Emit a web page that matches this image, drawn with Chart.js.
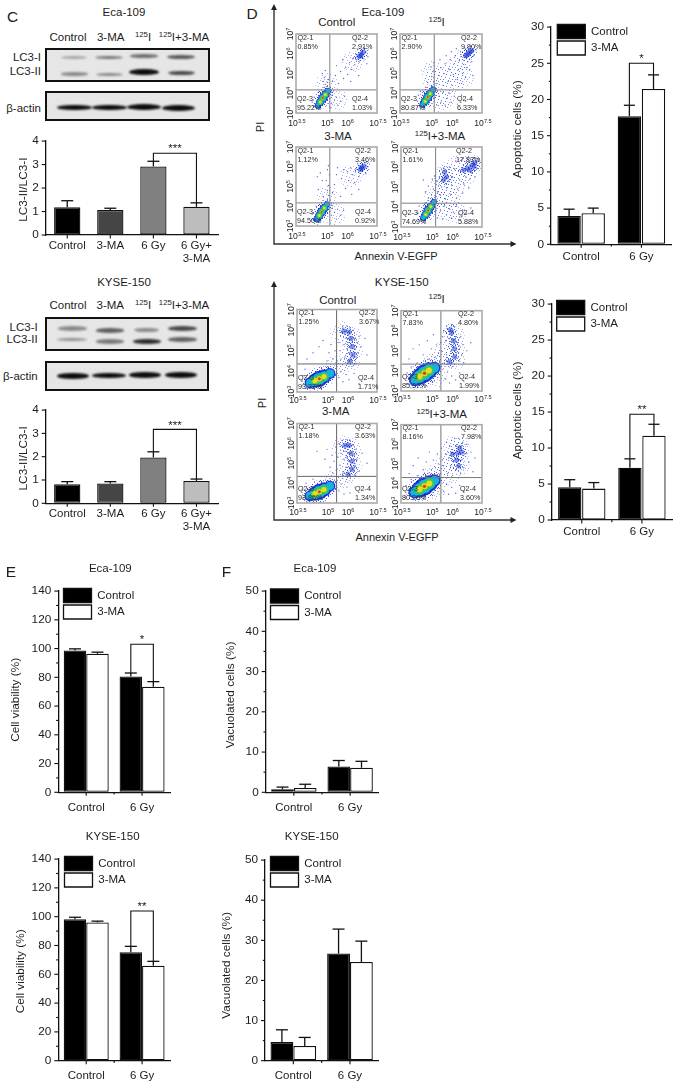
<!DOCTYPE html>
<html><head><meta charset="utf-8">
<script src="https://cdn.jsdelivr.net/npm/chart.js@4/dist/chart.umd.min.js"></script>
<style>
html,body{margin:0;padding:0;background:#fff}
#page{position:relative;width:677px;height:1087px;overflow:hidden;font-family:'Liberation Sans',Arial,sans-serif;color:#1d1d1d}
canvas{position:absolute}
.t{position:absolute;white-space:nowrap;line-height:1}
.t sup{font-size:.68em;line-height:0;vertical-align:baseline;position:relative;top:-.5em}
.blot{position:absolute;box-sizing:border-box;border:2px solid #111;background:#e6e6e6;overflow:hidden}
.band{position:absolute;background:#0c0c0c;border-radius:50%;filter:blur(1.2px)}
</style></head><body><div id="page"></div>
<script>
/* ---------- DATA: bar panels ---------- */
const lc3Categories = ['Control', '3-MA', '6 Gy', ['6 Gy+', '3-MA']];
const groupCategories = ['Control', '6 Gy'];
const seriesNames = ['Control', '3-MA'];

const lc3EcaValues = [1.18, 1.07, 2.92, 1.2];
const lc3EcaUpper = [1.46, 1.14, 3.14, 1.37];
const lc3KyseValues = [0.82, 0.85, 1.97, 0.96];
const lc3KyseUpper = [0.93, 0.93, 2.21, 1.04];

const apoEcaControl = [3.9, 17.7];
const apoEcaControlUpper = [4.85, 19.2];
const apoEca3MA = [4.3, 21.45];
const apoEca3MAUpper = [5.0, 23.4];
const apoKyseControl = [4.55, 7.27];
const apoKyseControlUpper = [5.6, 8.5];
const apoKyse3MA = [4.36, 11.7];
const apoKyse3MAUpper = [5.2, 13.3];

const viaEcaControl = [98.7, 80.6];
const viaEcaControlUpper = [99.8, 83];
const viaEca3MA = [96.4, 73.5];
const viaEca3MAUpper = [97.5, 77];
const viaKyseControl = [98.3, 75.3];
const viaKyseControlUpper = [99.6, 79.4];
const viaKyse3MA = [96, 66];
const viaKyse3MAUpper = [96.9, 69];

const vacEcaControl = [0.73, 6.4];
const vacEcaControlUpper = [1.3, 7.9];
const vacEca3MA = [1.05, 6.1];
const vacEca3MAUpper = [2.0, 7.7];
const vacKyseControl = [4.63, 26.7];
const vacKyseControlUpper = [7.7, 32.8];
const vacKyse3MA = [3.66, 24.6];
const vacKyse3MAUpper = [5.8, 29.8];

/* ---------- DATA: flow cytometry panels (log10 of Annexin V, log10 of PI) ---------- */
const flowXTicks = ['3.5', '5', '6', '7.5'];
const flowYTicks = ['3', '4', '5', '6', '7'];

const ecaCtlPct = ['0.85%', '2.91%', '95.22%', '1.03%'];
const eca125Pct = ['2.90%', '9.90%', '80.87%', '6.33%'];
const eca3maPct = ['1.12%', '3.46%', '94.50%', '0.92%'];
const ecaBothPct = ['1.61%', '17.83%', '74.69%', '5.88%'];
const kyCtlPct = ['1.25%', '3.67%', '93.37%', '1.71%'];
const ky125Pct = ['7.83%', '4.80%', '85.37%', '1.99%'];
const ky3maPct = ['1.18%', '3.63%', '93.86%', '1.34%'];
const kyBothPct = ['8.16%', '7.98%', '80.26%', '3.60%'];

const ecaCtlCore = [[4.58,3.37],[4.7,3.56],[4.82,3.75],[4.95,3.93],[5.08,4.12]];
const ecaCtlClump = [[6.62,5.86],[6.72,5.98],[6.82,6.08],[6.7,5.9]];
const ecaCtlHaze = [[5.0,4.5],[6.3,5.6],[5.5,3.7]];
const ecaCtlDots = [[4.9,4.3],[4.95,4.45],[4.85,4.6],[4.9,4.8],[5,4.35],[5.05,4.55],[4.8,5],[4.95,5.15],[5.1,4.7],[5.3,4.6],[5.45,4.9],[5.6,4.5],[5.7,5.1],[5.85,4.75],[5.95,5.3],[6.05,4.95],[6.15,5.55],[6.25,5.2],[6.3,5.75],[6.4,5.45],[6.45,6],[6.5,5.7],[6.55,6.2],[6.6,5.6],[6.85,5.75],[6.95,6.1],[7.05,5.85],[6.9,6.25],[7,5.5],[6.2,4.6],[6.6,4.9],[5.8,5.7],[5.5,5.4],[5.25,3.5],[5.3,3.9],[5.4,3.65],[5.5,3.8],[5.55,3.4],[5.7,3.6],[5.2,3.25],[4.4,3.8],[4.45,3.35],[4.3,3.55],[4.6,4.05],[5.25,4.05],[5.9,3.85]];

const eca125Core = [[4.6,3.42],[4.72,3.6],[4.85,3.8],[4.98,3.98],[5.12,4.18]];
const eca125Clump = [[6.7,5.9],[6.85,6.03],[7,6.15],[6.78,5.95],[6.92,6.1]];
const eca125Haze = [[5.1,4.6],[5.05,5.1],[5.7,3.8],[5.7,4.9],[6.2,5.3],[6.6,5.7],[6.1,4.6],[6.6,4.8],[5.4,3.6]];
const eca125Dots = [[5.1,4.35],[5.15,4.6],[5.05,4.85],[5.1,5.1],[5,5.35],[5.15,5.55],[5.3,4.5],[5.4,4.9],[5.5,5.3],[5.45,5.7],[5.6,4.4],[5.65,5],[5.7,5.5],[5.75,5.9],[5.85,4.6],[5.9,5.2],[5.95,5.7],[6,6.1],[6.05,4.4],[6.1,4.95],[6.15,5.5],[6.2,5.9],[6.25,6.25],[6.3,4.7],[6.35,5.2],[6.4,5.65],[6.45,6.1],[6.5,4.5],[6.55,5],[6.6,5.45],[6.65,6.3],[6.7,4.8],[6.75,5.3],[6.8,5.6],[6.9,5.2],[7,5.6],[7.1,5.9],[7.2,6.2],[7.05,4.9],[6.85,6.35],[5.3,3.4],[5.4,3.85],[5.5,3.55],[5.6,4.05],[5.7,3.4],[5.8,3.75],[5.9,4],[6,3.55],[6.15,3.85],[6.3,3.45],[6.5,3.9],[6.7,3.6],[4.35,3.6],[4.4,3.9],[4.5,4.1],[4.75,4.3],[4.85,4.55]];

const eca3maCore = [[4.53,3.34],[4.65,3.53],[4.77,3.72],[4.9,3.91],[5.03,4.1]];
const eca3maClump = [[6.68,5.85],[6.77,5.93],[6.86,6.03],[6.72,5.98]];
const eca3maHaze = [[5.05,4.5],[6.2,5.5],[5.4,3.6]];
const eca3maDots = [[5.05,4.3],[5.1,4.55],[5.05,4.8],[5.1,5.05],[5.0,5.3],[5.15,5.6],[5.05,5.85],[5.1,6.05],[4.7,5.7],[4.55,5.5],[4.8,5.3],[4.6,4.85],[4.85,4.5],[5.3,4.7],[5.4,5.1],[5.5,5.6],[5.55,5.95],[5.7,4.5],[5.75,5.4],[5.85,5.85],[5.95,4.9],[6.05,5.75],[6.1,5.3],[6.2,5.95],[6.25,4.6],[6.3,5.6],[6.4,5.2],[6.45,5.9],[6.55,6.15],[6.6,5.5],[6.6,4.85],[6.95,5.65],[7.05,6],[6.95,6.2],[5.25,3.55],[5.3,3.9],[5.4,3.7],[5.5,3.35],[5.55,3.85],[5.7,3.55],[5.85,3.8],[4.3,3.6],[4.35,3.3],[4.5,4.0],[5.25,4.05]];

const ecaBothCore = [[4.6,3.45],[4.72,3.63],[4.84,3.83],[4.97,4.02],[5.12,4.24]];
const ecaBothClump = [[6.6,5.85],[6.8,5.95],[7,6.1],[7.15,6.2],[6.9,5.85],[5.65,5.75],[5.75,5.5],[5.6,5.35],[7.1,6.02]];
const ecaBothHaze = [[5.2,4.5],[5.4,4.1],[5.8,3.8],[6.3,3.7],[5.7,4.9],[6.2,5.2],[6.6,5.5],[5.8,5.7],[6.3,6.05],[6.8,6.05],[7.05,6.05],[5.5,5.2],[6,4.5]];
const ecaBothDots = [[5.25,4.35],[5.3,4.75],[5.35,5.05],[5.25,5.3],[5.15,5.55],[5.1,4.9],[5.05,5.4],[4.85,5.05],[4.7,4.75],[4.6,5.35],[5.45,4.6],[5.5,5],[5.55,5.5],[5.6,5.95],[5.7,4.4],[5.75,4.95],[5.85,5.3],[5.9,6],[5.95,4.6],[6,5.1],[6.05,5.5],[6.15,5.9],[6.2,6.3],[6.25,4.45],[6.3,4.9],[6.4,5.35],[6.45,5.75],[6.5,6.35],[6.55,4.7],[6.6,5.15],[6.7,5.5],[6.75,6.45],[6.85,4.95],[6.9,5.4],[7,5.7],[7.15,5.5],[7.25,5.95],[7.3,6.3],[7.1,6.45],[5.3,3.45],[5.45,3.8],[5.55,3.4],[5.65,4.05],[5.75,3.6],[5.9,3.9],[6,3.45],[6.1,3.75],[6.25,4.05],[6.4,3.5],[6.55,3.85],[6.7,3.65],[6.95,3.95],[4.3,3.7],[4.4,4.05],[4.5,3.4],[4.7,4.2],[4.85,4.45],[5,4.6]];

const kyCtlCore = [[4.15,3.45],[4.4,3.55],[4.62,3.64],[4.85,3.75],[5.15,3.9]];
const kyCtlClump = [[6.1,5.9],[6.2,5.6],[6.25,5.2],[6.3,4.8],[6.15,4.5],[5.85,5.95]];
const kyCtlHaze = [[6.2,5.7],[6.25,5.0],[6.1,4.5],[5.7,5.9],[5.4,4.2]];
const kyCtlDots = [[4.0,4.6],[4.3,4.9],[4.6,5.2],[4.8,5.5],[5.0,4.5],[5.1,4.9],[5.2,5.3],[5.3,4.6],[5.4,5.0],[5.5,4.5],[5.6,5.4],[5.65,5],[5.7,4.6],[5.75,5.9],[5.8,6.1],[5.85,5.3],[5.9,4.7],[5.95,5.6],[6.0,6.2],[6.0,5.1],[6.05,4.4],[6.1,5.4],[6.15,6.1],[6.15,4.9],[6.2,4.6],[6.25,5.4],[6.3,6],[6.35,5.6],[6.4,5.1],[6.45,4.7],[6.45,4.4],[6.5,5.4],[6.55,4.9],[6.6,5.7],[6.7,5.2],[6.9,5.6],[7.0,4.8],[5.6,3.7],[5.7,4.0],[5.8,3.5],[5.95,3.85],[6.1,3.6],[6.35,3.9],[6.6,3.4],[3.8,3.8],[3.75,3.3],[3.9,4.1]];

const ky125Core = [[4.2,3.55],[4.42,3.72],[4.66,3.88],[4.88,4.02],[5.15,4.15]];
const ky125Clump = [[6.0,5.9],[6.1,5.5],[6.15,5.1],[6.15,4.7],[5.95,6.05],[5.9,4.45]];
const ky125Haze = [[4.4,3.45],[5.2,3.7],[5.1,4.35],[6.1,5.8],[6.15,5.2],[6.15,4.6],[5.7,5.0],[5.5,4.6]];
const ky125Dots = [[3.9,4.6],[4.1,5.1],[4.4,5.3],[4.6,4.8],[4.8,5.5],[4.9,4.6],[5.0,5.1],[5.1,5.8],[5.2,4.7],[5.25,5.3],[5.35,4.9],[5.4,4.5],[5.45,5.4],[5.5,5.0],[5.55,5.7],[5.6,6.0],[5.65,4.4],[5.7,5.5],[5.75,4.8],[5.8,6.1],[5.85,5.2],[5.9,5.6],[5.95,4.6],[6,6.3],[6,5.0],[6.05,4.4],[6.1,5.3],[6.15,6.2],[6.2,5.7],[6.25,4.9],[6.3,5.4],[6.35,4.5],[6.4,5.1],[6.45,5.7],[6.5,4.8],[6.55,5.3],[6.6,4.4],[6.75,5.0],[6.95,5.4],[5.7,3.6],[5.8,3.95],[5.9,3.4],[6,3.75],[6.2,3.55],[6.4,3.9],[6.6,3.5],[3.8,3.9],[3.75,3.35],[4.0,4.2],[4.3,4.4]];

const ky3maCore = [[4.15,3.36],[4.4,3.47],[4.62,3.57],[4.85,3.68],[5.15,3.85]];
const ky3maClump = [[6.1,5.9],[6.2,5.5],[6.25,5.1],[6.25,4.7],[5.9,5.9],[6.05,4.45]];
const ky3maHaze = [[6.2,5.7],[6.25,5.0],[6.05,4.5],[5.75,5.85],[5.4,4.1]];
const ky3maDots = [[4.5,5.6],[4.9,5.2],[5.0,5.7],[5.15,4.8],[5.25,5.4],[5.3,4.5],[5.35,5.1],[5.45,5.8],[5.5,4.7],[5.55,5.3],[5.6,6.0],[5.65,4.9],[5.7,5.5],[5.75,6.15],[5.8,4.5],[5.85,5.2],[5.9,5.6],[5.95,6.2],[5.95,4.8],[6.0,5.3],[6.05,6.05],[6.1,5.1],[6.15,4.4],[6.15,6.15],[6.2,4.9],[6.3,5.9],[6.35,5.4],[6.4,4.9],[6.4,4.4],[6.45,5.7],[6.5,5.2],[6.6,4.6],[6.75,5.5],[7,5.0],[5.6,3.6],[5.7,3.95],[5.85,3.45],[6,3.8],[6.15,3.5],[6.4,3.8],[3.75,3.7],[3.8,3.25],[3.95,4.0],[4.3,4.2]];

const kyBothCore = [[4.18,3.55],[4.42,3.7],[4.66,3.85],[4.9,4.0],[5.15,4.15]];
const kyBothClump = [[6.4,5.8],[6.3,5.55],[6.5,5.6],[6.25,5.2],[6.35,4.9],[6.05,5.5]];
const kyBothHaze = [[4.4,3.45],[5.2,3.7],[5.15,4.4],[5.6,4.8],[6.0,5.2],[6.4,5.7],[6.4,5.0],[5.9,4.5],[6.1,5.9]];
const kyBothDots = [[3.9,4.5],[4.1,4.9],[4.35,5.3],[4.6,4.7],[4.75,5.1],[4.9,5.6],[5.0,4.7],[5.1,5.2],[5.2,4.8],[5.3,5.5],[5.35,5.0],[5.45,4.5],[5.5,5.8],[5.55,5.2],[5.6,4.9],[5.7,5.5],[5.75,6.1],[5.8,4.5],[5.85,5.3],[5.9,5.9],[5.95,4.9],[6,6.2],[6.05,4.4],[6.1,5.1],[6.15,6.3],[6.2,4.7],[6.25,5.9],[6.35,6.3],[6.45,4.5],[6.5,5.2],[6.55,6.1],[6.6,4.8],[6.65,5.5],[6.75,6],[6.85,5.1],[6.95,5.6],[7.05,4.6],[7.15,5.3],[5.6,3.6],[5.75,3.95],[5.85,3.45],[6,3.8],[6.2,3.5],[6.4,3.9],[6.6,3.6],[3.75,3.9],[3.7,3.3],[4.0,4.2],[4.3,4.4]];

/* ---------- Layout ---------- */
const FONT = "'Liberation Sans', Arial, sans-serif";
const INK = '#1d1d1d';
const page = document.getElementById('page');
Chart.defaults.font.family = FONT;
Chart.defaults.color = INK;

function text(html, x, y, size, opts = {}) {
  const d = document.createElement('div');
  d.className = 't';
  d.innerHTML = html;
  d.style.fontSize = size + 'px';
  d.style.top = y + 'px';
  if (opts.right) { d.style.right = (677 - x) + 'px'; d.style.transform = 'translateY(-50%)'; }
  else { d.style.left = x + 'px'; d.style.transform = opts.left ? 'translateY(-50%)' : 'translate(-50%,-50%)'; }
  if (opts.rot) d.style.transform = 'translate(-50%,-50%) rotate(-90deg)';
  page.appendChild(d);
}
function makeCanvas(x, y, w, h) {
  const c = document.createElement('canvas');
  c.width = w; c.height = h;
  c.style.left = x + 'px'; c.style.top = y + 'px';
  c.style.width = w + 'px'; c.style.height = h + 'px';
  page.appendChild(c);
  return c;
}
function blot(x0, y0, x1, y1, bands) {
  const b = document.createElement('div');
  b.className = 'blot';
  b.style.cssText = `left:${x0}px;top:${y0}px;width:${x1 - x0}px;height:${y1 - y0}px`;
  bands.forEach(([bx0, bx1, cy, h, op]) => {
    const s = document.createElement('div');
    s.className = 'band';
    s.style.cssText = `left:${bx0 - x0 - 2}px;width:${bx1 - bx0}px;top:${cy - h / 2 - y0 - 2}px;height:${h}px;opacity:${op}`;
    b.appendChild(s);
  });
  page.appendChild(b);
}

const decor = {
  id: 'decor',
  afterLayout(chart, _a, o) {
    if (o.legendAt && chart.legend) {
      chart.legend.left = o.legendAt[0];
      chart.legend.top = o.legendAt[1];
    }
  },
  afterDatasetsDraw(chart, _a, o) {
    const { ctx, scales: { x, y } } = chart;
    ctx.save();
    ctx.strokeStyle = '#111';
    ctx.lineWidth = 1.3;
    const line = (a, b, c, d) => { ctx.beginPath(); ctx.moveTo(a, b); ctx.lineTo(c, d); ctx.stroke(); };
    chart.data.datasets.forEach((ds, di) => {
      chart.getDatasetMeta(di).data.forEach((bar, i) => {
        const t = y.getPixelForValue(ds.upper[i]);
        line(bar.x, bar.y, bar.x, t);
        line(bar.x - o.cap, t, bar.x + o.cap, t);
      });
    });
    if (o.bracket) {
      const { a, b, top, stars, up } = o.bracket;
      const ds = chart.data.datasets;
      const A = chart.getDatasetMeta(a[0]).data[a[1]].x, B = chart.getDatasetMeta(b[0]).data[b[1]].x;
      const T = y.getPixelForValue(top);
      ctx.lineWidth = 1.1;
      ctx.beginPath();
      ctx.moveTo(A, y.getPixelForValue(ds[a[0]].upper[a[1]]));
      ctx.lineTo(A, T); ctx.lineTo(B, T);
      ctx.lineTo(B, y.getPixelForValue(ds[b[0]].upper[b[1]]));
      ctx.stroke();
      ctx.fillStyle = INK;
      ctx.font = `11.5px ${FONT}`;
      ctx.textAlign = 'center';
      ctx.textBaseline = 'middle';
      ctx.fillText(stars, (A + B) / 2, T - up);
    }
    ctx.lineWidth = 1.1;
    y.ticks.forEach(t => {
      const p = y.getPixelForValue(t.value);
      const major = t.value % o.major === 0;
      line(x.left, p, x.left - (major ? 4 : 2.2), p);
    });
    x.ticks.forEach((t, i) => {
      const p = x.getPixelForTick(i);
      line(p, y.bottom, p, y.bottom + 3.5);
      if (o.xMinor && i > 0) { const m = (p + x.getPixelForTick(i - 1)) / 2; line(m, y.bottom, m, y.bottom + 2.2); }
    });
    ctx.restore();
  }
};

function barPanel(p) {
  const T = 10, B = 36, R = 6;
  const cx = Math.round(p.titleX - 7), cy = Math.round(p.top - T);
  const ax = p.axis - cx;
  const w = Math.round(p.right - cx + R), h = Math.round(p.zero - cy + B);
  const two = p.datasets.length === 2;
  p.datasets.forEach(d => {
    d.borderColor = '#111'; d.borderWidth = 1.3; d.borderSkipped = false;
    d.categoryPercentage = two ? p.catPct : 1;
    d.barPercentage = two ? p.barPct : 0.61;
  });
  const center = (p.top + p.zero) / 2;
  const shift = center - p.titleY;
  const spaces = ' '.repeat(Math.round(2 * Math.abs(shift) / (0.278 * 11.8)));
  const title = shift > 0 ? spaces + p.yTitle : p.yTitle + spaces;
  new Chart(makeCanvas(cx, cy, w, h), {
    type: 'bar',
    data: { labels: p.labels, datasets: p.datasets },
    options: {
      responsive: false, animation: false, devicePixelRatio: 1,
      layout: { padding: { top: p.top - cy, right: w - (p.right - cx), left: 0, bottom: 0 } },
      plugins: {
        tooltip: { enabled: false },
        title: { display: false },
        legend: two ? {
          display: true, position: 'chartArea', align: 'start',
          labels: { boxWidth: 28, boxHeight: 14, padding: 2.5, color: INK, font: { size: 11.5, family: FONT } }
        } : { display: false },
        decor: {
          cap: p.cap, major: p.major, xMinor: two, bracket: p.bracket,
          legendAt: two ? [p.legend[0] - cx - 2.5, p.legend[1] - cy - 2.5] : null
        }
      },
      scales: {
        x: {
          afterFit(s) { s.height = h - (p.zero - cy); },
          grid: { drawOnChartArea: false, drawTicks: false },
          border: { color: '#111', width: 1.3 },
          ticks: { padding: p.xPad, maxRotation: 0, autoSkip: false, color: INK, font: { size: 11.5, family: FONT, lineHeight: 1.15 } }
        },
        y: {
          min: 0, max: p.max,
          afterFit(s) { s.width = ax; },
          grid: { drawOnChartArea: false, drawTicks: false },
          border: { color: '#111', width: 1.3 },
          title: { display: true, text: title, padding: 0, color: INK, font: { size: 11.8, family: FONT, lineHeight: 1.2 } },
          ticks: {
            stepSize: p.step, autoSkip: false, padding: 7, color: INK, font: { size: 11.8, family: FONT },
            callback: v => (v % p.major === 0 ? String(v) : '')
          }
        }
      }
    },
    plugins: [decor]
  });
}
function pair(a, aU, b, bU) {
  return [
    { label: seriesNames[0], data: a, upper: aU, backgroundColor: '#000' },
    { label: seriesNames[1], data: b, upper: bU, backgroundColor: '#fff' }
  ];
}
const lc3Fill = ['#000', '#454545', '#808080', '#bdbdbd'];

/* ---------- Flow panels ---------- */
const ECA_R = [4.6, 3.5, 2.5, 1.5, 1.1];
const KY_R = [8, 6, 4.4, 2.6, 1.5];

// stipple fills: a fixed speck texture that reads as the scattered events of a density plot
function stipple(specks, alpha, size) {
  const t = document.createElement('canvas');
  t.width = t.height = size;
  const g = t.getContext('2d');
  g.fillStyle = `rgba(40,60,220,${alpha})`;
  specks.forEach(([x, y]) => g.fillRect(x, y, 1, 1));
  return g.createPattern(t, 'repeat');
}
const STIPPLE_LIGHT = stipple([[1,2],[5,0],[8,4],[3,6],[10,8],[6,9],[0,10],[9,1],[4,3],[7,7],[1,8],[11,5],[3,11],[8,10]], .4, 12);
const STIPPLE_DENSE = stipple([[0,0],[3,1],[1,3],[5,2],[4,4],[2,5],[6,5],[0,6],[5,6]], .72, 7);

const flowDecor = {
  id: 'flowDecor',
  afterDatasetsDraw(chart, _a, o) {
    const { ctx, chartArea: A, scales: { x, y } } = chart;
    ctx.save();
    ctx.strokeStyle = o.gateColor; ctx.lineWidth = 1;
    const gx = x.getPixelForValue(o.gate[0]), gy = y.getPixelForValue(o.gate[1]);
    ctx.beginPath();
    ctx.moveTo(gx, A.top); ctx.lineTo(gx, A.bottom);
    ctx.moveTo(A.left, gy); ctx.lineTo(A.right, gy);
    ctx.stroke();
    ctx.strokeStyle = '#ababab'; ctx.lineWidth = 1.6;
    ctx.strokeRect(A.left, A.top, A.right - A.left, A.bottom - A.top);
    ctx.fillStyle = '#2b2b2b';
    ctx.font = `7.2px ${FONT}`;
    ctx.textAlign = 'left'; ctx.textBaseline = 'middle';
    const rows = [[1.5, 3.6, 'Q2-1', 0], [o.q2, 3.6, 'Q2-2', 1], [1, A.bottom - A.top - 14, 'Q2-3', 2], [o.q4, A.bottom - A.top - 14, 'Q2-4', 3]];
    rows.forEach(([dx, dy, name, i]) => {
      ctx.fillText(name, A.left + dx, A.top + dy);
      ctx.fillText(o.pct[i], A.left + dx, A.top + dy + 9);
    });
    // power-of-ten tick labels
    const power = (exp, px, py, rot) => {
      ctx.save();
      ctx.translate(px, py);
      if (rot) ctx.rotate(-Math.PI / 2);
      ctx.fillStyle = '#262626';
      ctx.font = `8.6px ${FONT}`;
      const a = ctx.measureText('10').width;
      ctx.font = `5.6px ${FONT}`;
      const b = ctx.measureText(exp).width;
      const s = -(a + b) / 2;
      ctx.font = `8.6px ${FONT}`;
      ctx.textBaseline = 'alphabetic';
      ctx.fillText('10', s, 3);
      ctx.font = `5.6px ${FONT}`;
      ctx.fillText(exp, s + a, 0);
      ctx.restore();
    };
    flowXTicks.forEach(v => power(v, x.getPixelForValue(+v) + 1, A.bottom + o.xDy, false));
    flowYTicks.forEach(v => power(v, A.left - 6, y.getPixelForValue(+v), true));
    ctx.restore();
  }
};

function flowPanel(p) {
  const L = 18, T = 10, R = 14, B = 22;
  const cx = p.x0 - L, cy = p.y0 - T;
  const w = p.x1 - p.x0, h = p.y1 - p.y0;
  const pts = a => a.map(([x, y]) => ({ x, y }));
  const ds = (a, r, c) => ({ data: pts(a), pointRadius: r, pointBackgroundColor: c, pointBorderWidth: 0, showLine: false, pointHoverRadius: r });
  const rr = p.radii;
  const taper = r => [r * .68, r * .9, r, r * .9, r * .68];
  new Chart(makeCanvas(cx, cy, w + L + R, h + T + B), {
    type: 'scatter',
    data: {
      datasets: [
        ds(p.core.slice(2, 3), rr[4], '#e23a18'),
        ds(p.core.slice(1, 4), rr[3], '#e8dc1e'),
        ds(p.core.slice(1, 4), rr[2], '#35c85a'),
        ds(p.core, taper(rr[1]), '#14b2de'),
        ds(p.core, taper(rr[0]), 'rgba(26,43,212,.93)'),
        ds(p.core, taper(rr[0] + 3.5), STIPPLE_DENSE),
        ds(p.clump, 2.6, 'rgba(28,60,210,.55)'),
        ds(p.dots, 0.7, 'rgba(38,56,215,.75)'),
        ds(p.clump, 6, STIPPLE_DENSE),
        ds(p.haze, 11, STIPPLE_LIGHT)
      ]
    },
    options: {
      responsive: false, animation: false, devicePixelRatio: 1,
      layout: { padding: { top: T, right: R, left: 0, bottom: 0 } },
      plugins: {
        legend: { display: false }, tooltip: { enabled: false },
        flowDecor: { gate: p.gate, pct: p.pct, q2: p.q2, q4: p.q4, gateColor: p.gateColor, xDy: p.xDy }
      },
      scales: {
        x: {
          type: 'linear', min: 3.5, max: 7.5,
          afterFit(s) { s.height = B; },
          grid: { display: false }, border: { display: false },
          ticks: { display: false }
        },
        y: {
          min: 3, max: 7,
          afterFit(s) { s.width = L; },
          grid: { display: false }, border: { display: false },
          ticks: { display: false }
        }
      }
    },
    plugins: [flowDecor]
  });
}

/* ---------- Panel C ---------- */
const I125 = '<sup>125</sup>I';
text('C', 12.5, 17, 15.5);
text('Eca-109', 124, 13, 11.5);
[['Control', 68], ['3-MA', 110.7], [I125, 143], [I125 + '+3-MA', 184]].forEach(([s, x]) => text(s, x, 37.5, 11.5));
blot(45, 47.5, 209.5, 81.5, [
  [61, 87, 57.5, 3.2, .3], [95, 123, 57.5, 3.6, .5], [130, 158, 56, 3.6, .55], [167, 195, 56.5, 4, .65],
  [61, 88, 74, 3.6, .42], [96, 123, 74.5, 3.6, .42], [129, 159, 72, 6.5, 1], [168, 195, 73, 4.4, .72]]);
blot(45, 91, 209.5, 121, [
  [57, 92, 107.5, 5.5, 1], [92, 127, 107.5, 5.5, 1], [127, 161, 107, 6, 1], [162, 195, 107.5, 6, 1]]);
text('LC3-I', 41, 58, 11.5, { right: true });
text('LC3-II', 41, 72, 11.5, { right: true });
text('β-actin', 41, 109, 11.5, { right: true });
barPanel({
  titleX: 24, titleY: 187, axis: 45.7, top: 137.3, zero: 235, right: 218, max: 4, step: 1, major: 1, cap: 6, xPad: 4,
  labels: lc3Categories, yTitle: 'LC3-II/LC3-I',
  datasets: [{ data: lc3EcaValues, upper: lc3EcaUpper, backgroundColor: lc3Fill }],
  bracket: { a: [0, 2], b: [0, 3], top: 3.48, stars: '***', up: 4 }
});

text('KYSE-150', 124, 282.7, 11.5);
[['Control', 68], ['3-MA', 110.3], [I125, 143], [I125 + '+3-MA', 184]].forEach(([s, x]) => text(s, x, 305.7, 11.5));
blot(44.5, 316.5, 208.5, 351, [
  [58, 87, 328.5, 4.4, .42], [96, 124, 330.5, 4.6, .62], [134, 159, 330, 4.4, .42], [168, 197, 328.5, 5, .72],
  [57, 87, 339.5, 3.6, .38], [96, 124, 341.5, 4.4, .5], [133, 161, 341.5, 5.6, .85], [168, 197, 339.5, 4.4, .6]]);
blot(44.5, 360.5, 208.5, 390.5, [
  [57, 89, 376, 5.5, 1], [92, 126, 375.5, 5.5, 1], [129, 161, 375, 5.5, 1], [165, 197, 375, 5.5, 1]]);
text('LC3-I', 37.7, 328, 11.5, { right: true });
text('LC3-II', 37.7, 340, 11.5, { right: true });
text('β-actin', 37.7, 377, 11.5, { right: true });
barPanel({
  titleX: 24, titleY: 456, axis: 45.7, top: 405.7, zero: 503.3, right: 218, max: 4, step: 1, major: 1, cap: 6, xPad: 4,
  labels: lc3Categories, yTitle: 'LC3-II/LC3-I',
  datasets: [{ data: lc3KyseValues, upper: lc3KyseUpper, backgroundColor: lc3Fill }],
  bracket: { a: [0, 2], b: [0, 3], top: 3.17, stars: '***', up: 4 }
});

/* ---------- Panel D flow ---------- */
text('D', 252, 13.5, 15.5);
text('Eca-109', 383, 13.3, 11.5);
text('KYSE-150', 401.7, 282.7, 11.5);
[['Control', 336.7, 23.3], [I125, 436.7, 23], ['3-MA', 338, 137.3], [I125 + '+3-MA', 440, 136.7],
 ['Control', 337.7, 300.7], [I125, 436.7, 300], ['3-MA', 335.7, 412.3], [I125 + '+3-MA', 441.7, 415]]
  .forEach(([s, x, y]) => text(s, x, y, 11.5));
text('PI', 260, 127, 11, { rot: true });
text('PI', 261.7, 403, 11, { rot: true });
text('Annexin V-EGFP', 396, 256, 11);
text('Annexin V-EGFP', 397, 536.5, 11);

const svgNS = 'http://www.w3.org/2000/svg';
const svg = document.createElementNS(svgNS, 'svg');
svg.setAttribute('width', 677); svg.setAttribute('height', 1087);
svg.style.cssText = 'position:absolute;left:0;top:0';
[[274, 8, 244, 513], [274, 285, 520, 513]].forEach(([x, y0, y1, xEnd]) => {
  const path = document.createElementNS(svgNS, 'path');
  path.setAttribute('d', `M${x} ${y0}V${y1}H${xEnd}`);
  path.setAttribute('fill', 'none'); path.setAttribute('stroke', '#333'); path.setAttribute('stroke-width', '1.4');
  svg.appendChild(path);
  const tip = document.createElementNS(svgNS, 'path');
  tip.setAttribute('d', `M${x} ${y0 - 4}l-3 6h6zM${xEnd + 3.5} ${y1}l-6 -3v6z`);
  tip.setAttribute('fill', '#222');
  svg.appendChild(tip);
});
page.appendChild(svg);

flowPanel({ x0: 296, x1: 377, y0: 33, y1: 113, xDy: 9.5, gate: [5.17, 4.17], pct: ecaCtlPct, q2: 56, q4: 56, core: ecaCtlCore, clump: ecaCtlClump, haze: ecaCtlHaze, dots: ecaCtlDots, radii: ECA_R, gateColor: '#7f7f7f' });
flowPanel({ x0: 400, x1: 482, y0: 33, y1: 113, xDy: 9.5, gate: [5.17, 4.17], pct: eca125Pct, q2: 61, q4: 57, core: eca125Core, clump: eca125Clump, haze: eca125Haze, dots: eca125Dots, radii: ECA_R, gateColor: '#7f7f7f' });
flowPanel({ x0: 296, x1: 377, y0: 146, y1: 226, xDy: 9.5, gate: [5.17, 4.17], pct: eca3maPct, q2: 59, q4: 59, core: eca3maCore, clump: eca3maClump, haze: eca3maHaze, dots: eca3maDots, radii: ECA_R, gateColor: '#7f7f7f' });
flowPanel({ x0: 401, x1: 482, y0: 146, y1: 227, xDy: 9.5, gate: [5.21, 4.19], pct: ecaBothPct, q2: 55, q4: 57, core: ecaBothCore, clump: ecaBothClump, haze: ecaBothHaze, dots: ecaBothDots, radii: ECA_R, gateColor: '#7f7f7f' });
flowPanel({ x0: 297, x1: 377, y0: 308, y1: 392, xDy: 7.5, gate: [5.48, 4.36], pct: kyCtlPct, q2: 62, q4: 61, core: kyCtlCore, clump: kyCtlClump, haze: kyCtlHaze, dots: kyCtlDots, radii: KY_R, gateColor: '#666' });
flowPanel({ x0: 401, x1: 482, y0: 308, y1: 391, xDy: 7.5, gate: [5.47, 4.34], pct: ky125Pct, q2: 57, q4: 58, core: ky125Core, clump: ky125Clump, haze: ky125Haze, dots: ky125Dots, radii: KY_R.map(r => r * 1.15), gateColor: '#777' });
flowPanel({ x0: 297, x1: 377, y0: 422, y1: 503, xDy: 8.5, gate: [5.48, 4.34], pct: ky3maPct, q2: 58, q4: 58, core: ky3maCore, clump: ky3maClump, haze: ky3maHaze, dots: ky3maDots, radii: KY_R, gateColor: '#666' });
flowPanel({ x0: 401, x1: 482, y0: 422, y1: 503, xDy: 8.5, gate: [5.47, 4.3], pct: kyBothPct, q2: 60, q4: 59, core: kyBothCore, clump: kyBothClump, haze: kyBothHaze, dots: kyBothDots, radii: KY_R.map(r => r * 1.15), gateColor: '#777' });

/* ---------- Panel D bars ---------- */
barPanel({
  titleX: 518.3, titleY: 127, axis: 551, top: 23.3, zero: 244.3, right: 671.6, max: 30, step: 2.5, major: 5, cap: 5.5, xPad: 5.5, catPct: .8, barPct: .97,
  labels: groupCategories, yTitle: 'Apoptotic cells (%)', legend: [557.3, 24.5],
  datasets: pair(apoEcaControl, apoEcaControlUpper, apoEca3MA, apoEca3MAUpper),
  bracket: { a: [0, 1], b: [1, 1], top: 25, stars: '*', up: 4 }
});
barPanel({
  titleX: 518.3, titleY: 408, axis: 551.7, top: 300, zero: 520, right: 672, max: 30, step: 2.5, major: 5, cap: 5.5, xPad: 5.5, catPct: .8, barPct: .97,
  labels: groupCategories, yTitle: 'Apoptotic cells (%)', legend: [556.7, 300.5],
  datasets: pair(apoKyseControl, apoKyseControlUpper, apoKyse3MA, apoKyse3MAUpper),
  bracket: { a: [0, 1], b: [1, 1], top: 14.7, stars: '**', up: 4 }
});

/* ---------- Panel E ---------- */
text('E', 11, 571.5, 15.5);
text('Eca-109', 110.3, 569, 11.5);
barPanel({
  titleX: 16, titleY: 698, axis: 58.3, top: 586.7, zero: 792.3, right: 170, max: 140, step: 10, major: 20, cap: 6, xPad: 8.5, catPct: .806, barPct: 1,
  labels: groupCategories, yTitle: 'Cell viability (%)', legend: [63.5, 588.5],
  datasets: pair(viaEcaControl, viaEcaControlUpper, viaEca3MA, viaEca3MAUpper),
  bracket: { a: [0, 1], b: [1, 1], top: 103, stars: '*', up: 4 }
});
text('KYSE-150', 112.7, 837, 11.5);
barPanel({
  titleX: 21, titleY: 969, axis: 58.3, top: 855, zero: 1060.7, right: 170, max: 140, step: 10, major: 20, cap: 6, xPad: 8.5, catPct: .806, barPct: 1,
  labels: groupCategories, yTitle: 'Cell viability (%)', legend: [64.5, 856.5],
  datasets: pair(viaKyseControl, viaKyseControlUpper, viaKyse3MA, viaKyse3MAUpper),
  bracket: { a: [0, 1], b: [1, 1], top: 104, stars: '**', up: 4 }
});

/* ---------- Panel F ---------- */
text('F', 226.5, 571.5, 15.5);
text('Eca-109', 315, 569, 11.5);
barPanel({
  titleX: 230.7, titleY: 693, axis: 265.7, top: 587.3, zero: 792.3, right: 378.3, max: 50, step: 5, major: 10, cap: 6, xPad: 8.5, catPct: .806, barPct: 1,
  labels: groupCategories, yTitle: 'Vacuolated cells (%)', legend: [270.5, 589],
  datasets: pair(vacEcaControl, vacEcaControlUpper, vacEca3MA, vacEca3MAUpper)
});
text('KYSE-150', 311.7, 837, 11.5);
barPanel({
  titleX: 226.7, titleY: 962.7, axis: 265, top: 855.7, zero: 1060.7, right: 378.3, max: 50, step: 5, major: 10, cap: 6, xPad: 8.5, catPct: .806, barPct: 1,
  labels: groupCategories, yTitle: 'Vacuolated cells (%)', legend: [270.5, 856.5],
  datasets: pair(vacKyseControl, vacKyseControlUpper, vacKyse3MA, vacKyse3MAUpper)
});
</script></body></html>
